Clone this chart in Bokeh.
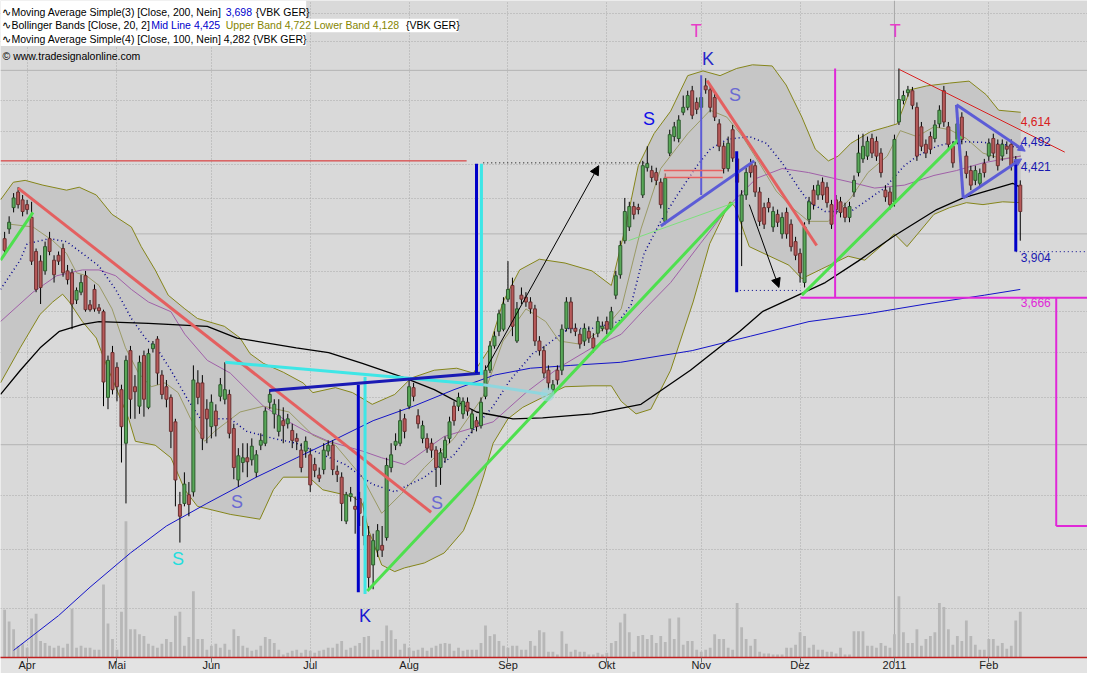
from bokeh.plotting import figure
from bokeh.models import Range1d, FixedTicker, Span, Arrow, NormalHead, LinearScale
from bokeh.embed import file_html
from bokeh.resources import INLINE
from bokeh.core.properties import value

# ---------------- data (trading-day index, 0 = 1 Apr 2010) ----------------
first_idx = -5
opens = [
    3.974, 4.027, 4.146, 4.235, 4.190, 4.163, 4.091, 3.905, 3.854, 3.803,
    3.974, 3.859, 3.885, 3.921, 3.803, 3.793, 3.655, 3.694, 3.778, 3.631,
    3.708, 3.616, 3.597, 3.200, 3.402, 3.334, 3.234, 3.006, 3.411, 3.247,
    3.162, 3.388, 3.157, 3.420, 3.465, 3.299, 3.247, 3.200, 3.095, 2.765,
    2.769, 2.802, 2.813, 3.264, 3.264, 3.149, 3.075, 3.141, 3.205, 3.192,
    3.213, 3.067, 2.859, 2.928, 2.947, 2.939, 2.889, 2.998, 3.006, 3.179,
    3.129, 3.055, 3.100, 3.087, 3.059, 3.026, 2.978, 2.974, 2.959, 2.920,
    2.878, 2.900, 2.974, 2.998, 2.893, 2.870, 2.703, 2.795, 2.758, 2.787,
    2.721, 2.650, 2.546, 2.598, 2.615, 2.643, 2.908, 2.998, 3.006, 3.108,
    3.162, 3.243, 3.121, 3.026, 3.026, 3.006, 2.978, 2.908, 2.947, 3.026,
    3.162, 3.162, 3.129, 3.179, 3.067, 3.100, 3.079, 3.205, 3.321, 3.433,
    3.502, 3.512, 3.659, 3.728, 3.456, 3.679, 3.669, 3.645, 3.611, 3.456,
    3.411, 3.321, 3.234, 3.321, 3.321, 3.516, 3.645, 3.516, 3.488, 3.456,
    3.502, 3.470, 3.493, 3.516, 3.549, 3.512, 3.679, 3.783, 3.963, 4.038,
    4.152, 4.146, 4.218, 4.378, 4.361, 4.349, 4.292, 4.069, 4.466, 4.568,
    4.556, 4.722, 4.754, 4.863, 4.786, 4.754, 4.895, 4.869, 4.818, 4.648,
    4.508, 4.373, 4.611, 4.431, 4.069, 4.218, 4.402, 4.390, 4.235, 4.146,
    4.174, 4.038, 4.108, 4.000, 4.119, 4.053, 3.958, 3.895, 3.743, 4.080,
    4.246, 4.218, 4.292, 4.263, 4.163, 4.190, 4.179, 4.146, 4.091, 4.235,
    4.349, 4.431, 4.448, 4.556, 4.538, 4.466, 4.246, 4.235, 4.179, 4.660,
    4.799, 4.850, 4.863, 4.754, 4.629, 4.520, 4.568, 4.556, 4.648, 4.863,
    4.629, 4.508, 4.550, 4.691, 4.448, 4.361, 4.303, 4.286, 4.402, 4.448,
    4.556, 4.520, 4.448, 4.508, 4.520, 4.419, 4.275,
]
closes = [
    3.911, 4.064, 4.201, 4.163, 4.124, 4.135, 3.854, 3.708, 3.718, 3.931,
    3.905, 3.783, 3.854, 3.793, 3.758, 3.635, 3.703, 3.743, 3.607, 3.607,
    3.611, 3.602, 3.268, 3.366, 3.234, 3.247, 3.075, 3.366, 3.192, 3.225,
    3.357, 3.192, 3.397, 3.442, 3.308, 3.213, 3.192, 3.055, 2.859, 2.721,
    2.843, 2.765, 3.277, 3.200, 3.026, 3.108, 3.179, 3.079, 3.256, 3.234,
    3.047, 2.908, 2.955, 2.947, 2.931, 2.994, 2.959, 3.018, 3.141, 3.213,
    3.170, 3.121, 3.079, 3.108, 3.018, 3.014, 2.908, 3.014, 2.840, 2.897,
    2.866, 2.978, 2.998, 2.900, 2.881, 2.769, 2.802, 2.806, 2.747, 2.732,
    2.650, 2.503, 2.632, 2.668, 2.598, 2.916, 2.959, 3.014, 3.100, 3.055,
    3.247, 3.205, 3.087, 3.079, 2.986, 2.978, 2.908, 2.967, 3.018, 3.095,
    3.100, 3.200, 3.183, 3.141, 3.129, 3.075, 3.179, 3.321, 3.433, 3.479,
    3.587, 3.635, 3.708, 3.526, 3.611, 3.659, 3.645, 3.611, 3.456, 3.411,
    3.308, 3.264, 3.256, 3.277, 3.512, 3.645, 3.516, 3.502, 3.442, 3.516,
    3.470, 3.424, 3.549, 3.526, 3.512, 3.597, 3.778, 3.937, 4.124, 4.152,
    4.108, 4.135, 4.390, 4.402, 4.320, 4.303, 4.163, 4.315, 4.580, 4.629,
    4.672, 4.754, 4.831, 4.703, 4.741, 4.818, 4.869, 4.754, 4.691, 4.508,
    4.373, 4.526, 4.436, 4.292, 4.218, 4.349, 4.349, 4.235, 4.069, 4.053,
    4.146, 4.124, 4.064, 4.091, 4.000, 3.931, 3.885, 3.793, 4.038, 4.179,
    4.163, 4.275, 4.218, 4.174, 4.053, 4.135, 4.119, 4.091, 4.152, 4.303,
    4.466, 4.508, 4.538, 4.466, 4.448, 4.349, 4.207, 4.163, 4.550, 4.805,
    4.831, 4.869, 4.767, 4.448, 4.508, 4.466, 4.490, 4.641, 4.735, 4.660,
    4.520, 4.407, 4.648, 4.550, 4.344, 4.275, 4.361, 4.344, 4.349, 4.526,
    4.466, 4.390, 4.520, 4.490, 4.390, 4.390, 4.124,
]
highs = [
    4.011, 4.097, 4.229, 4.263, 4.218, 4.190, 4.179, 3.921, 3.885, 3.958,
    4.011, 3.885, 3.905, 3.947, 3.834, 3.813, 3.718, 3.783, 3.803, 3.655,
    3.733, 3.635, 3.607, 3.388, 3.433, 3.357, 3.256, 3.388, 3.433, 3.299,
    3.388, 3.411, 3.420, 3.456, 3.479, 3.321, 3.277, 3.213, 3.108, 2.813,
    2.889, 2.851, 3.343, 3.321, 3.299, 3.192, 3.213, 3.170, 3.286, 3.357,
    3.234, 3.087, 2.986, 3.006, 3.006, 3.026, 2.978, 3.047, 3.157, 3.234,
    3.192, 3.192, 3.157, 3.129, 3.087, 3.047, 3.006, 3.034, 2.986, 2.947,
    2.908, 3.006, 3.018, 3.018, 2.916, 2.889, 2.813, 2.832, 2.795, 2.813,
    2.776, 2.685, 2.657, 2.692, 2.685, 2.947, 3.006, 3.047, 3.149, 3.129,
    3.281, 3.264, 3.149, 3.100, 3.047, 3.026, 2.994, 2.986, 3.034, 3.117,
    3.183, 3.221, 3.200, 3.200, 3.149, 3.117, 3.200, 3.343, 3.456, 3.502,
    3.607, 3.669, 3.854, 3.768, 3.645, 3.718, 3.694, 3.669, 3.631, 3.479,
    3.433, 3.343, 3.277, 3.343, 3.535, 3.669, 3.669, 3.540, 3.512, 3.540,
    3.526, 3.493, 3.573, 3.549, 3.573, 3.621, 3.803, 3.963, 4.201, 4.179,
    4.179, 4.168, 4.419, 4.508, 4.390, 4.378, 4.315, 4.344, 4.611, 4.660,
    4.703, 4.831, 4.863, 4.895, 4.818, 4.850, 4.947, 4.895, 4.843, 4.678,
    4.532, 4.568, 4.641, 4.460, 4.246, 4.378, 4.431, 4.413, 4.263, 4.174,
    4.201, 4.152, 4.135, 4.119, 4.146, 4.080, 3.984, 3.921, 4.064, 4.207,
    4.275, 4.303, 4.320, 4.292, 4.190, 4.218, 4.207, 4.174, 4.179, 4.332,
    4.580, 4.586, 4.568, 4.586, 4.568, 4.496, 4.275, 4.263, 4.580, 5.013,
    4.863, 4.895, 4.888, 4.786, 4.660, 4.550, 4.599, 4.672, 4.767, 4.895,
    4.660, 4.538, 4.678, 4.722, 4.478, 4.390, 4.390, 4.373, 4.431, 4.556,
    4.586, 4.550, 4.550, 4.538, 4.550, 4.448, 4.303,
]
lows = [
    3.885, 4.000, 4.119, 4.141, 4.097, 4.108, 3.834, 3.694, 3.635, 3.783,
    3.885, 3.743, 3.834, 3.773, 3.733, 3.512, 3.635, 3.679, 3.597, 3.597,
    3.597, 3.587, 3.162, 3.149, 3.213, 3.183, 2.928, 2.769, 3.108, 3.108,
    3.129, 3.117, 3.149, 3.402, 3.256, 3.192, 3.157, 2.986, 2.758, 2.625,
    2.758, 2.721, 2.795, 3.170, 2.978, 3.006, 3.026, 3.034, 3.183, 3.170,
    3.026, 2.862, 2.832, 2.889, 2.870, 2.916, 2.870, 2.978, 2.994, 3.149,
    3.067, 3.034, 3.006, 3.067, 2.986, 2.978, 2.889, 2.947, 2.813, 2.870,
    2.851, 2.881, 2.955, 2.878, 2.851, 2.703, 2.692, 2.776, 2.657, 2.685,
    2.615, 2.463, 2.463, 2.574, 2.574, 2.632, 2.889, 2.978, 2.994, 3.026,
    3.149, 3.183, 3.067, 3.006, 2.967, 2.947, 2.832, 2.840, 2.928, 3.006,
    3.079, 3.141, 3.108, 3.121, 3.047, 3.055, 3.067, 3.192, 3.308, 3.420,
    3.479, 3.502, 3.645, 3.479, 3.447, 3.635, 3.621, 3.587, 3.433, 3.388,
    3.286, 3.234, 3.213, 3.256, 3.299, 3.502, 3.493, 3.479, 3.420, 3.433,
    3.447, 3.402, 3.474, 3.502, 3.488, 3.493, 3.659, 3.763, 3.947, 4.016,
    4.080, 4.108, 4.201, 4.355, 4.292, 4.275, 4.141, 4.053, 4.448, 4.538,
    4.532, 4.703, 4.735, 4.678, 4.710, 4.735, 4.843, 4.722, 4.666, 4.478,
    4.344, 4.355, 4.413, 4.263, 3.828, 4.190, 4.320, 4.207, 4.043, 4.027,
    4.119, 4.011, 4.038, 3.974, 3.974, 3.905, 3.859, 3.743, 3.718, 4.053,
    4.135, 4.190, 4.190, 4.146, 4.027, 4.108, 4.091, 4.064, 4.064, 4.207,
    4.326, 4.407, 4.425, 4.436, 4.419, 4.320, 4.179, 4.135, 4.152, 4.641,
    4.773, 4.824, 4.741, 4.419, 4.478, 4.436, 4.460, 4.532, 4.623, 4.629,
    4.490, 4.378, 4.520, 4.520, 4.315, 4.246, 4.275, 4.258, 4.320, 4.419,
    4.436, 4.361, 4.419, 4.460, 4.361, 4.373, 3.963,
]
# volume in thousand shares
volume = [v * 5 for v in [
    49, 37, 29, 12, 14, 10, 40, 45, 17, 15,
    12, 10, 12, 10, 14, 50, 10, 12, 10, 10,
    8, 8, 75, 35, 19, 8, 47, 140, 29, 29,
    24, 22, 14, 12, 10, 14, 19, 16, 43, 47,
    12, 21, 68, 19, 19, 8, 12, 14, 10, 14,
    8, 29, 22, 12, 10, 7, 8, 12, 21, 19,
    15, 8, 3, 5, 7, 8, 5, 8, 7, 5,
    7, 8, 10, 10, 14, 17, 8, 10, 12, 15,
    21, 22, 8, 8, 17, 33, 28, 19, 8, 14,
    10, 7, 8, 10, 7, 10, 12, 14, 15, 14,
    7, 10, 7, 8, 8, 8, 15, 33, 22, 24,
    17, 12, 10, 12, 12, 8, 8, 17, 12, 28,
    26, 6, 6, 3, 27, 14, 6, 8, 6, 6,
    3, 3, 5, 3, 5, 15, 17, 36, 45, 26,
    6, 22, 23, 19, 23, 15, 22, 16, 40, 19,
    41, 13, 17, 17, 8, 6, 8, 10, 24, 19,
    19, 10, 8, 56, 31, 19, 12, 19, 6, 4,
    4, 3, 3, 3, 10, 10, 13, 26, 22, 10,
    13, 8, 8, 6, 6, 4, 10, 3, 3, 27,
    27, 27, 12, 12, 10, 15, 12, 10, 24, 63,
    26, 15, 15, 29, 12, 19, 22, 26, 56, 52,
    29, 13, 22, 17, 38, 22, 13, 8, 8, 19,
    19, 12, 15, 9, 12, 38, 47,
]]
idx = list(range(first_idx, first_idx + len(closes)))

# indicator lines (index, price)
ma200_i = [-3, 7, 14, 23, 31, 40, 51, 60, 69, 77, 86, 95, 104, 112, 121, 132, 148, 161, 174, 187, 200, 213, 221]
ma200_v = [2.266, 2.376, 2.470, 2.588, 2.685, 2.769, 2.870, 2.947, 3.026, 3.100, 3.162, 3.234, 3.299, 3.330,
           3.343, 3.357, 3.411, 3.479, 3.549, 3.587, 3.635, 3.679, 3.708]
ma100_i = [-5.9, -1.5, 2.9, 7.2, 12.3, 16, 27, 40.1, 46.7, 59.9, 67.1, 74.6, 84, 90.6, 100, 108.1, 114.7,
           125.7, 136.6, 147.6, 158.6, 163.6, 177.6, 184.9, 193, 202.4, 208.3, 219.3, 221]
ma100_v = [3.213, 3.321, 3.424, 3.502, 3.535, 3.549, 3.540, 3.526, 3.470, 3.424, 3.402, 3.352, 3.286, 3.234,
           3.137, 3.108, 3.112, 3.129, 3.170, 3.321, 3.502, 3.597, 3.743, 3.854, 3.990, 4.135, 4.201, 4.286, 4.263]
upper_i = [-5.92, -3.07, -0.44, 3.51, 8.77, 11.6, 15.4, 18.9, 23.2, 25.4, 28.5, 31.4, 35.1, 37.9, 43.9, 47.4,
           49.6, 52.6, 57.0, 61.4, 63.6, 68.6, 72.4, 76.8, 81.8, 85.5, 90.6, 95.6, 99.3, 102.6, 105.9, 109.6,
           114, 119.7, 125.7, 130, 133.3, 136, 139.5, 143.2, 147, 150.4, 154.2, 157.9, 161.4, 165.8, 168.9,
           172.4, 175.4, 178.3, 180.5, 183.3, 187.7, 191.4, 193.6, 196.5, 200.2, 205.3, 209.6, 213.4, 216.2, 221.1]
upper_v = [4.190, 4.292, 4.303, 4.275, 4.246, 4.263, 4.218, 4.108, 4.038, 3.931, 3.808, 3.679, 3.611, 3.564,
           3.526, 3.470, 3.397, 3.352, 3.312, 3.264, 3.221, 3.243, 3.221, 3.170, 3.213, 3.286, 3.321, 3.330,
           3.308, 3.411, 3.645, 3.808, 3.864, 3.844, 3.803, 3.728, 4.053, 4.390, 4.586, 4.729, 4.964, 4.996,
           4.964, 5.013, 5.038, 5.030, 4.901, 4.691, 4.490, 4.419, 4.448, 4.526, 4.599, 4.629, 4.648, 4.869,
           4.895, 4.914, 4.927, 4.837, 4.735, 4.722]
lower_i = [-5.92, -1.54, 2.85, 5.7, 7.9, 9.4, 12.3, 15.4, 17.5, 19.7, 22.6, 24.1, 28.5, 32, 35.1, 37.9, 45.2,
           51.8, 54.8, 57, 62.7, 65.8, 72.4, 74.6, 75.9, 78.9, 81.8, 84, 88.4, 92.8, 97.1, 99.3, 101.5, 103.7,
           107, 110.3, 114.7, 119.7, 125.7, 130, 132.2, 135.5, 138.8, 143.2, 148.2, 151.9, 156.4, 157.5, 160.7,
           169.5, 172.4, 176.8, 182.7, 186.4, 191.4, 193, 195.8, 201.8, 205.3, 209, 212.7, 217.1, 221.1]
lower_v = [3.264, 3.424, 3.583, 3.645, 3.684, 3.645, 3.549, 3.470, 3.352, 3.247, 3.108, 3.014, 2.998, 2.947,
           2.821, 2.758, 2.728, 2.710, 2.821, 2.870, 2.870, 2.821, 2.795, 2.769, 2.674, 2.546, 2.523, 2.536,
           2.553, 2.588, 2.668, 2.758, 2.870, 3.006, 3.108, 3.157, 3.200, 3.247, 3.251, 3.251, 3.183, 3.129,
           3.149, 3.321, 3.645, 3.947, 4.179, 4.152, 3.931, 3.833, 3.763, 3.813, 3.880, 3.859, 3.963, 4.000,
           3.931, 4.108, 4.146, 4.174, 4.163, 4.179, 4.174]
mid_i = [-5.92, -1.54, 0, 5.04, 8.77, 12.3, 16, 19.7, 23.2, 26.3, 29.2, 32, 35.7, 38.6, 45.2, 48.9, 54.8, 59.9,
         70.8, 76.8, 81.8, 88.4, 95, 100, 103.7, 107.5, 112.5, 114.7, 120.6, 125.7, 131.6, 134.4, 137.3, 141,
         144.7, 149.1, 152, 155.7, 160.7, 164.5, 168, 171.7, 173.9, 177.6, 183.3, 190.8, 195.2, 198.1, 202.4,
         206.8, 212.7, 217.1, 221.1]
mid_v = [3.708, 3.859, 3.947, 3.974, 3.958, 3.895, 3.828, 3.708, 3.564, 3.470, 3.411, 3.321, 3.192, 3.108,
         3.108, 3.055, 3.026, 3.006, 2.920, 2.843, 2.813, 2.870, 2.959, 3.079, 3.162, 3.277, 3.397, 3.424,
         3.516, 3.516, 3.549, 3.631, 3.895, 4.069, 4.218, 4.390, 4.490, 4.550, 4.568, 4.526, 4.407, 4.258,
         4.179, 4.124, 4.124, 4.258, 4.390, 4.448, 4.508, 4.538, 4.532, 4.520, 4.496]
ma50_i = [-5.92, 1.3, 6.6, 12.3, 16, 19.7, 23.2, 27, 32, 35.1, 40.1, 45.2, 52.6, 57, 62.1, 67.1, 74.6, 78.9,
          84, 92.8, 103.7, 111, 118.4, 125.7, 132.2, 137.3, 143.2, 149.8, 157, 162.3, 168, 173.9, 183.3,
          188.6, 195.2, 201.8, 206.8, 212.7, 221.1]
ma50_v = [3.549, 3.694, 3.778, 3.808, 3.808, 3.778, 3.708, 3.645, 3.597, 3.488, 3.366, 3.308, 3.162, 3.108,
          3.055, 3.014, 2.974, 2.947, 2.920, 3.034, 3.095, 3.221, 3.334, 3.424, 3.488, 3.607, 3.743, 3.947,
          4.179, 4.315, 4.373, 4.349, 4.292, 4.258, 4.275, 4.332, 4.361, 4.407, 4.448]
ma10_i = [-3.73, 1.3, 5.7, 8.77, 11, 13.2, 16, 18.9, 21.9, 24.8, 27.6, 30.7, 33.6, 36.4, 39.5, 41.7, 47.4,
          52.6, 58.3, 63.6, 68.6, 74.6, 78.9, 83.3, 88.4, 95, 101.5, 105.9, 111, 115.4, 118.4, 122.8, 128.5,
          132.2, 136.6, 141, 147, 152, 155.7, 159.2, 162.9, 166.7, 170.2, 173.9, 178.3, 183.3, 187.1, 191.4,
          194.3, 198, 201.8, 205.3, 209, 212.7, 217.1, 221.1]
ma10_v = [4.053, 4.038, 3.963, 3.895, 3.793, 3.778, 3.728, 3.611, 3.424, 3.308, 3.247, 3.264, 3.221, 3.108,
          3.014, 3.055, 3.137, 3.162, 3.137, 3.039, 2.998, 2.870, 2.732, 2.806, 2.908, 3.026, 3.205, 3.456,
          3.611, 3.549, 3.456, 3.442, 3.516, 3.611, 4.027, 4.373, 4.586, 4.735, 4.691, 4.568, 4.407, 4.241,
          4.146, 4.069, 4.069, 4.201, 4.349, 4.448, 4.605, 4.568, 4.629, 4.611, 4.556, 4.466, 4.431, 4.448]

month_idx = [0, 20, 41, 63, 85, 107, 129, 150, 172, 193, 214]
month_lbl = ["Apr", "Mai", "Jun", "Jul", "Aug", "Sep", "Okt", "Nov", "Dez", "2011", "Feb"]
dotted_levels = [2.4, 2.6, 2.8, 3.2, 3.4, 3.6, 3.8, 4.2, 4.4, 4.6, 4.8, 5.2, 5.4]
solid_levels = [3.0, 4.0, 5.0]

# ---------------- figure ----------------
X0, X1 = -5.92, 235.96
p = figure(width=1087, height=673, x_range=Range1d(X0, X1), y_range=Range1d(2.244, 5.50),
           y_axis_type="log", output_backend="svg", toolbar_location=None,
           min_border_left=0, min_border_right=0, min_border_top=0, min_border_bottom=0)
p.background_fill_color = "#d9d9d9"
p.border_fill_color = "#e3e3e3"
p.outline_line_color = None
p.yaxis.visible = False

ax = p.xaxis[0]
ax.ticker = FixedTicker(ticks=month_idx)
ax.major_label_overrides = {k: v for k, v in zip(month_idx, month_lbl)}
ax.major_label_text_align = "left"
ax.major_label_text_font = "Liberation Sans"
ax.major_label_text_font_size = "11px"
ax.major_label_text_color = "#202020"
ax.major_tick_in = 0
ax.major_tick_out = 5
ax.major_tick_line_color = "#707070"
ax.minor_tick_line_color = None
ax.axis_line_color = "#c02020"
ax.axis_line_width = 1.5
ax.major_label_standoff = -4

p.xgrid.ticker = FixedTicker(ticks=month_idx)
p.xgrid.grid_line_color = "#a8a8a8"
p.xgrid.grid_line_dash = "1 2"
p.ygrid.ticker = FixedTicker(ticks=dotted_levels)
p.ygrid.grid_line_color = "#a8a8a8"
p.ygrid.grid_line_dash = "1 2"
for lv in solid_levels:
    p.add_layout(Span(location=lv, dimension="width", line_color="#b4b4b4", line_width=1, level="underlay"))
p.add_layout(Span(location=193, dimension="height", line_color="#a8a8a8", line_width=1, level="underlay"))

# Bollinger band fill + edges
p.patch(upper_i + lower_i[::-1], upper_v + lower_v[::-1], fill_color="#c6c6c6", line_color=None)
p.line(upper_i, upper_v, line_color="#85851a", line_width=1)
p.line(lower_i, lower_v, line_color="#85851a", line_width=1)

# volume
p.extra_y_ranges = {"vol": Range1d(0, 3375)}
p.extra_y_scales = {"vol": LinearScale()}
p.vbar(x=idx, top=volume, bottom=0, width=0.62, y_range_name="vol", fill_color="#b7b7b7", line_color=None)

# indicator lines
p.line(ma10_i, ma10_v, line_color="#9a9a66", line_width=1)
p.line(ma50_i, ma50_v, line_color="#a060a8", line_width=1)
p.line(mid_i, mid_v, line_color="#00008c", line_width=1.5, line_dash="1 3")
p.line(ma100_i, ma100_v, line_color="#000000", line_width=1.3)
p.line(ma200_i, ma200_v, line_color="#1414c8", line_width=1)

# candles
up = [c >= o for o, c in zip(opens, closes)]
body_top = [max(o, c) for o, c in zip(opens, closes)]
body_bot = [min(o, c) for o, c in zip(opens, closes)]
fills = ["#58a858" if u else "#b85a5a" for u in up]
edges = ["#2e5a2e" if u else "#6a3030" for u in up]
p.segment(idx, highs, idx, lows, line_color="#000000", line_width=1)
p.vbar(x=idx, top=body_top, bottom=body_bot, width=0.66, fill_color=fills, line_color=edges, line_width=1)

# drawn annotations: (x0, p0, x1, p1, color, width, dash)
GREEN, RED, CYAN, NAVY, SLATE, MAG = "#4ee04e", "#e46060", "#3ee6e6", "#0000c8", "#5c5cd6", "#e028d8"
drawn = [
    (-5.9, 3.859, 1.3, 4.119, GREEN, 3, "solid"),
    (-2.0, 4.258, 89.9, 2.736, RED, 3, "solid"),
    (-5.92, 4.419, 97.8, 4.419, "#d82020", 1, "solid"),
    (44.1, 3.357, 101.5, 3.256, CYAN, 3, "solid"),
    (101.5, 3.256, 115.8, 3.213, "#8fd6de", 3, "solid"),
    (75.2, 3.291, 75.2, 2.447, CYAN, 3, "solid"),
    (73.7, 3.256, 73.7, 2.453, NAVY, 3, "solid"),
    (53.9, 3.230, 101.5, 3.308, "#1a1ab4", 3, "solid"),
    (100.0, 3.308, 100.0, 4.401, NAVY, 3, "solid"),
    (101.1, 3.299, 101.1, 4.401, CYAN, 3, "solid"),
    (101.5, 4.407, 138.8, 4.407, "#000000", 1, "1 3"),
    (75.7, 2.457, 157.0, 4.174, GREEN, 3, "solid"),
    (133.8, 3.963, 157.9, 4.179, "#7ee07e", 1, "solid"),
    (172.4, 3.679, 207.9, 4.568, GREEN, 3, "solid"),
    (141.0, 4.043, 161.8, 4.419, SLATE, 3, "solid"),
    (150.0, 4.966, 150.0, 4.218, SLATE, 2, "solid"),
    (141.7, 4.361, 154.8, 4.361, "#e86060", 1.5, "solid"),
    (141.7, 4.320, 154.8, 4.320, "#e86060", 1.5, "solid"),
    (151.3, 4.930, 175.7, 3.937, RED, 3, "solid"),
    (157.9, 4.478, 157.9, 3.694, NAVY, 3, "solid"),
    (158.6, 3.703, 172.1, 3.703, "#00008c", 1, "1 3"),
    (179.8, 5.013, 179.8, 3.666, MAG, 2, "solid"),
    (172.1, 3.666, X1, 3.666, MAG, 2, "solid"),
    (229.0, 3.666, 229.0, 2.685, MAG, 2, "solid"),
    (229.0, 2.685, X1, 2.685, MAG, 2, "solid"),
    (194.1, 5.006, 230.9, 4.472, "#d82020", 1, "solid"),
    (206.8, 4.770, 208.3, 4.201, SLATE, 3, "solid"),
    (220.0, 4.419, 220.0, 3.905, NAVY, 3, "solid"),
    (220.0, 3.904, X1, 3.904, "#00008c", 1, "1 3"),
]
p.quad(left=[141.7], right=[154.8], bottom=[4.320], top=[4.361], fill_color="#e8b8b8", fill_alpha=0.5, line_color=None)
for x0, y0, x1, y1, col, w, dash in drawn:
    p.segment([x0], [y0], [x1], [y1], line_color=col, line_width=w, line_dash=dash)
p.scatter([115.8], [3.213], size=14, fill_color="#9ad8e0", fill_alpha=0.6, line_color=None)

arrows = [
    (102.2, 3.330, 127.2, 4.390, "#000000", 1, 9),
    (160.7, 4.163, 167.3, 3.718, "#000000", 1, 9),
    (206.8, 4.770, 222.1, 4.478, SLATE, 3, 7),
    (208.3, 4.201, 221.3, 4.431, SLATE, 3, 7),
]
for x0, y0, x1, y1, col, w, hs in arrows:
    p.add_layout(Arrow(end=NormalHead(size=hs, fill_color=col, line_color=col),
                       x_start=x0, y_start=y0, x_end=x1, y_end=y1, line_color=col, line_width=w))

# pattern letters
let_x = [33.6, 46.7, 75.2, 91.2, 138.4, 148.9, 151.5, 157.5, 193.2]
let_y = [2.567, 2.776, 2.376, 2.769, 4.679, 5.273, 5.080, 4.837, 5.273]
let_t = ["S", "S", "K", "S", "S", "T", "K", "S", "T"]
let_c = ["#22dede", "#6a6ad2", "#1818d0", "#6a6ad2", "#1010e8", "#e83cc8", "#2828c8", "#6a6ad2", "#e83cc8"]
p.text(let_x, let_y, text=let_t, text_color=let_c, text_font=value("Liberation Sans"),
       text_font_size="18px", text_align="center", text_baseline="middle")

# price level labels
lv_y = [4.666, 4.538, 4.384, 3.875, 3.640]
lv_t = ["4,614", "4,492", "4,421", "3,904", "3,666"]
lv_c = ["#d82020", "#1818b0", "#1818b0", "#1818b0", MAG]
p.text([221.1] * 5, lv_y, text=lv_t, text_color=lv_c, text_font=value("Liberation Sans"),
       text_font_size="12px", text_align="left", text_baseline="middle")

# legend block (top-left)
p.quad(left=[X0, X0], right=[62.1, 96.0], bottom=[5.169, 5.266], top=[5.50, 5.364],
       fill_color="#ffffff", line_color=None)
leg_x = [-5.48, 44.2, 50.9, -5.48, 27.63, 44.2, 84.3, -5.48, -5.48]
leg_y = [5.417, 5.417, 5.417, 5.322, 5.322, 5.322, 5.322, 5.217, 5.101]
leg_t = ["\u223fMoving Average Simple(3) [Close, 200, Nein]", "3,698", "{VBK GER}",
         "\u223fBollinger Bands [Close, 20, 2]", "Mid Line 4,425",
         "Upper Band 4,722 Lower Band 4,128", "{VBK GER}",
         "\u223fMoving Average Simple(4) [Close, 100, Nein] 4,282 {VBK GER}",
         "\u00a9 www.tradesignalonline.com"]
leg_c = ["#000000", "#0000cc", "#000000", "#000000", "#0000cc", "#858500", "#000000", "#000000", "#000000"]
p.text(leg_x, leg_y, text=leg_t, text_color=leg_c, text_font=value("Liberation Sans"),
       text_font_size="10.5px", text_align="left", text_baseline="middle")

open("out.html", "w").write(file_html(p, INLINE))
